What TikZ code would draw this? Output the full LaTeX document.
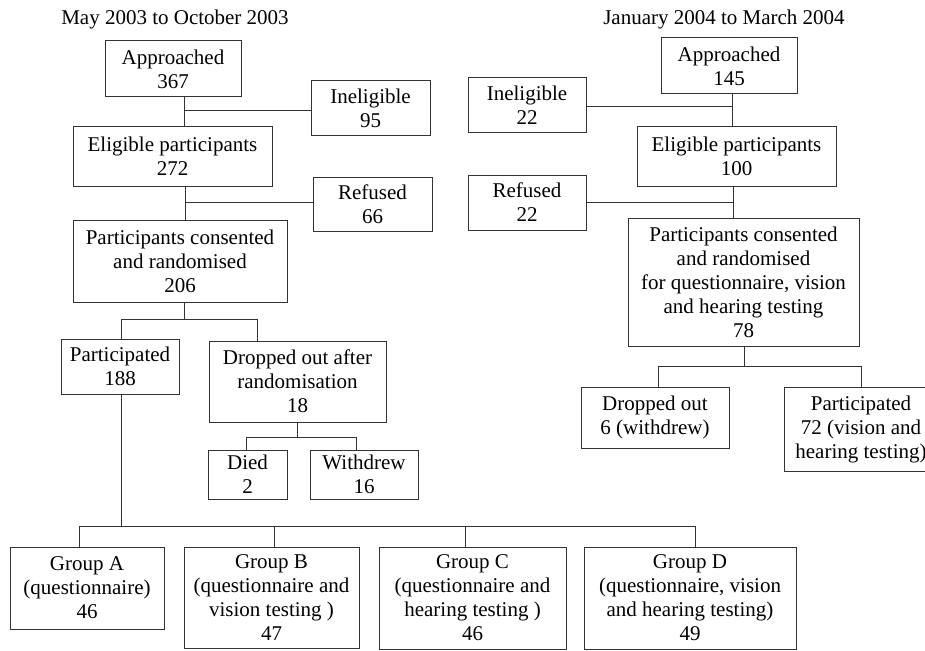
\documentclass[tikz,border=0pt]{standalone}
\usepackage{fontspec}
\setmainfont{Liberation Serif}
\begin{document}
\begin{tikzpicture}[x=1pt,y=-1pt,
  box/.style={draw=black!80, line width=1pt, align=center, inner sep=0pt,
    font=\fontsize{21}{24}\selectfont},
  conn/.style={draw=black!80, line width=1pt},
  ttl/.style={anchor=base, inner sep=0pt, font=\fontsize{21}{24}\selectfont}]
\useasboundingbox (0,0) rectangle (925,650);
% titles
\node[ttl] (t1) at (175,25) {May 2003 to October 2003};
\node[ttl] (t2) at (724,25) {January 2004 to March 2004};
% left column
\node[box, minimum width=136pt, minimum height=56pt] (appL) at (173,69) {Approached\\367};
\node[box, minimum width=119pt, minimum height=54pt] (inelL) at (370.5,108) {Ineligible\\95};
\node[box, minimum width=199pt, minimum height=60pt] (eligL) at (172.5,156) {Eligible participants\\272};
\node[box, minimum width=119pt, minimum height=54pt] (refL) at (372.5,204) {Refused\\66};
\node[box, minimum width=214pt, minimum height=82pt] (consL) at (180,261) {Participants consented\\and randomised\\206};
\node[box, minimum width=118pt, minimum height=55pt] (partL) at (120,366.5) {Participated\\188};
\node[box, minimum width=177pt, minimum height=81pt] (dropL) at (297.5,381.5) {Dropped out after\\randomisation\\18};
\node[box, minimum width=79pt, minimum height=49pt] (diedL) at (247.5,474.5) {Died\\2};
\node[box, minimum width=108pt, minimum height=49pt] (wdL) at (364,474.5) {Withdrew\\16};
\node[box, minimum width=154pt, minimum height=82pt] (gA) at (87,588) {Group A\\(questionnaire)\\46};
\node[box, minimum width=175pt, minimum height=101pt] (gB) at (271.5,597.5) {Group B\\(questionnaire and\\vision testing )\\47};
\node[box, minimum width=187pt, minimum height=102pt] (gC) at (472.5,598) {Group C\\(questionnaire and\\hearing testing )\\46};
\node[box, minimum width=212pt, minimum height=102pt] (gD) at (690,598) {Group D\\(questionnaire, vision\\and hearing testing)\\49};
% right column
\node[box, minimum width=136pt, minimum height=56pt] (appR) at (729,66) {Approached\\145};
\node[box, minimum width=118pt, minimum height=54pt] (inelR) at (527,105) {Ineligible\\22};
\node[box, minimum width=199pt, minimum height=60pt] (eligR) at (736.5,156) {Eligible participants\\100};
\node[box, minimum width=118pt, minimum height=55pt] (refR) at (527,202.5) {Refused\\22};
\node[box, minimum width=231pt, minimum height=128pt] (consR) at (743.5,282) {Participants consented\\and randomised\\for questionnaire, vision\\and hearing testing\\78};
\node[box, minimum width=148pt, minimum height=61pt] (dropR) at (655,417.5) {Dropped out\\6 (withdrew)};
\node[box, minimum width=154pt, minimum height=84pt] (partR) at (861,429) {Participated\\72 (vision and\\hearing testing)};
% junctions
\coordinate (jL1) at (184,111);
\coordinate (jL2) at (185,202);
\coordinate (jL3) at (184,319);
\coordinate (bL3a) at (121,319);
\coordinate (bL3b) at (257,319);
\coordinate (jL4) at (297,437);
\coordinate (bL4a) at (246,437);
\coordinate (bL4b) at (356,437);
\coordinate (jL5) at (121,526);
\coordinate (bA) at (79,526);
\coordinate (bB) at (274,526);
\coordinate (bC) at (465,526);
\coordinate (bD) at (695,526);
\coordinate (jR1) at (732,107);
\coordinate (jR2) at (733,202);
\coordinate (jR3) at (744,366);
\coordinate (bR3a) at (658,366);
\coordinate (bR3b) at (861,366);
% left connectors
\draw[conn] (appL.south -| jL1) -- (eligL.north -| jL1);
\draw[conn] (jL1) -- (jL1 -| inelL.west);
\draw[conn] (eligL.south -| jL2) -- (consL.north -| jL2);
\draw[conn] (jL2) -- (jL2 -| refL.west);
\draw[conn] (consL.south -| jL3) -- (jL3);
\draw[conn] (bL3a |- partL.north) -- (bL3a) -- (bL3b) -- (bL3b |- dropL.north);
\draw[conn] (dropL.south -| jL4) -- (jL4);
\draw[conn] (bL4a |- diedL.north) -- (bL4a) -- (bL4b) -- (bL4b |- wdL.north);
\draw[conn] (partL.south -| jL5) -- (jL5);
\draw[conn] (bA |- gA.north) -- (bA) -- (bD) -- (bD |- gD.north);
\draw[conn] (bB) -- (bB |- gB.north);
\draw[conn] (bC) -- (bC |- gC.north);
% right connectors
\draw[conn] (appR.south -| jR1) -- (eligR.north -| jR1);
\draw[conn] (jR1) -- (jR1 -| inelR.east);
\draw[conn] (eligR.south -| jR2) -- (consR.north -| jR2);
\draw[conn] (jR2) -- (jR2 -| refR.east);
\draw[conn] (consR.south -| jR3) -- (jR3);
\draw[conn] (bR3a |- dropR.north) -- (bR3a) -- (bR3b) -- (bR3b |- partR.north);
\end{tikzpicture}
\end{document}
